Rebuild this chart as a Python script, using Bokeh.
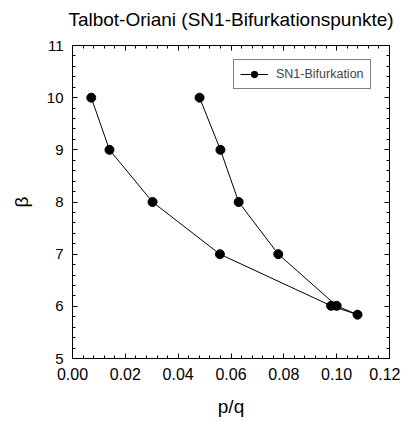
from bokeh.plotting import figure
from bokeh.models import (Range1d, LinearAxis, SingleIntervalTicker, NumeralTickFormatter,
                          Legend, LegendItem, CustomJSTickFormatter, Title)
from bokeh.embed import file_html
from bokeh.resources import INLINE

title_text = "Talbot-Oriani (SN1-Bifurkationspunkte)"
series_name = "SN1-Bifurkation"
x_label = "p/q"
y_label = "β"
pq = [0.0071, 0.0140, 0.0303, 0.0558, 0.0979, 0.1079, 0.1000, 0.0779, 0.0629, 0.0560, 0.0481]
beta = [10, 9, 8, 7, 6.01, 5.84, 6.01, 7, 8, 9, 10]

FONT = "Liberation Sans"

p = figure(width=400, height=419, output_backend="svg", toolbar_location=None,
           x_range=Range1d(0, 0.12), y_range=Range1d(5, 11),
           min_border_left=72, min_border_right=11, min_border_top=45, min_border_bottom=58,
           x_axis_label=x_label, y_axis_label=y_label)
p.title.text = title_text
p.title.align = "center"
p.title.text_font = FONT
p.title.text_font_size = "19px"
p.title.text_font_style = "normal"
p.title.text_color = "black"

p.grid.visible = False
p.outline_line_color = "black"
p.background_fill_color = "white"
p.border_fill_color = "white"

def style(ax, size="16px", labels=True):
    ax.axis_line_color = "black"
    ax.major_tick_in = 5
    ax.major_tick_out = 0
    ax.minor_tick_in = 3
    ax.minor_tick_out = 0
    ax.major_tick_line_color = "black"
    ax.minor_tick_line_color = "black"
    ax.major_label_text_font = FONT
    ax.major_label_text_font_size = size
    ax.major_label_text_color = "black"
    ax.axis_label_text_font = FONT
    ax.axis_label_text_font_size = "19px"
    ax.axis_label_text_font_style = "normal"
    ax.axis_label_text_color = "black"
    if not labels:
        ax.formatter = CustomJSTickFormatter(code="return ''")
        ax.major_label_standoff = 0
        ax.axis_label_standoff = 0

xa = p.xaxis[0]
xa.ticker = SingleIntervalTicker(interval=0.02, num_minor_ticks=5)
xa.formatter = NumeralTickFormatter(format="0.00")
xa.major_label_standoff = 9
xa.axis_label_standoff = 13
style(xa, "16px")
ya = p.yaxis[0]
ya.ticker = SingleIntervalTicker(interval=1, num_minor_ticks=5)
ya.major_label_standoff = 9
ya.axis_label_standoff = 12
style(ya, "15px")

top = LinearAxis(ticker=SingleIntervalTicker(interval=0.02, num_minor_ticks=5))
style(top, labels=False)
p.add_layout(top, "above")
right = LinearAxis(ticker=SingleIntervalTicker(interval=1, num_minor_ticks=5))
style(right, labels=False)
p.add_layout(right, "right")

# empty spacer panel between the frame and the title
spacer = Title(text=" ", text_font_size="8px", standoff=0)
p.add_layout(spacer, "above")

r_line = p.line(pq, beta, line_color="black", line_width=1)
r_pts = p.scatter(pq, beta, size=9, fill_color="black", line_color="black")

legend = Legend(items=[LegendItem(label=series_name, renderers=[r_line, r_pts])],
                location=(161, 269))
legend.label_text_font = FONT
legend.label_text_font_size = "12.5px"
legend.border_line_color = "black"
legend.border_line_width = 1
legend.glyph_width = 28
legend.glyph_height = 16
legend.padding = 6
legend.margin = 0
legend.label_standoff = 8
legend.background_fill_alpha = 1
p.add_layout(legend, "center")

open("out.html", "w").write(file_html(p, INLINE))
